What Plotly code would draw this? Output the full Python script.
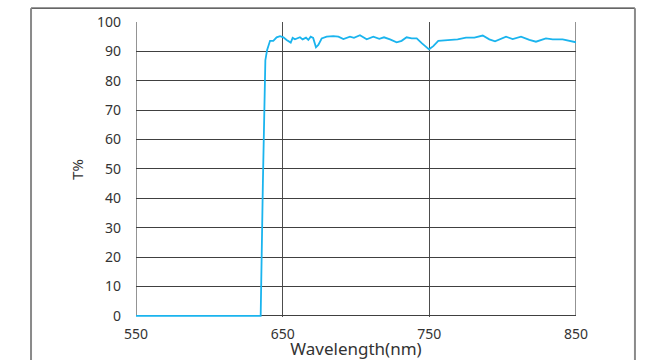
import plotly.graph_objects as go

# Transmission spectrum of a long-pass filter
wavelength_nm = [550, 635, 636.5, 638.2, 639.4, 641.4, 643.6, 645.9, 648.2, 650.5,
                 652.7, 655.5, 656.8, 658.4, 661.8, 663.6, 665.9, 667.5, 669.1, 670.8,
                 672.7, 674.3, 676.6, 680.0, 684.5, 688.0, 691.4, 695.9, 698.6, 702.7,
                 707.3, 711.8, 715.9, 719.1, 723.2, 727.7, 731.1, 734.5, 738.0, 741.4,
                 744.8, 749.8, 752.7, 756.1, 764.8, 769.3, 775.0, 780.7, 786.4, 790.9,
                 794.8, 798.5, 802.3, 806.8, 812.5, 818.2, 822.7, 829.5, 834.1, 840.9,
                 845.4, 850.0]
transmittance = [0, 0, 45, 87, 90.5, 93.6, 93.6, 94.8, 95.2, 94.8,
                 93.9, 93.0, 94.6, 94.1, 94.8, 94.1, 94.7, 93.9, 95.0, 94.6,
                 91.4, 92.2, 94.4, 95.0, 95.2, 95.0, 94.2, 95.0, 94.6, 95.5,
                 94.1, 95.0, 94.3, 94.8, 94.1, 93.1, 93.6, 94.8, 94.4, 94.4,
                 92.8, 90.7, 91.8, 93.6, 93.9, 94.1, 94.7, 94.7, 95.4, 94.1,
                 93.4, 94.3, 95.0, 94.2, 95.0, 93.9, 93.3, 94.4, 94.1, 94.1,
                 93.6, 93.1]

x_ticks = [550, 650, 750, 850]
y_ticks = [0, 10, 20, 30, 40, 50, 60, 70, 80, 90, 100]

FONT = "Noto Sans"
TEXT = "#333333"

fig = go.Figure()
fig.add_trace(go.Scatter(
    x=wavelength_nm, y=transmittance, mode="lines",
    line=dict(color="#1ab4ee", width=1.8),
    cliponaxis=False, hoverinfo="x+y", showlegend=False,
))

fig.update_layout(
    width=651, height=360,
    margin=dict(l=136, r=75, t=22, b=43),
    paper_bgcolor="white", plot_bgcolor="white",
    font=dict(family=FONT, color=TEXT, size=14),
    xaxis=dict(
        range=[550, 850], tickvals=x_ticks, ticktext=[str(v) for v in x_ticks],
        showgrid=True, gridcolor="#4d4d4d", gridwidth=1.3,
        zeroline=False, showline=False, ticks="", automargin=False,
        ticklabelstandoff=7,
        tickfont=dict(size=14, color=TEXT),
        title=dict(text="Wavelength(nm)", font=dict(size=17, color=TEXT), standoff=3),
    ),
    yaxis=dict(
        # small margin below zero keeps the baseline segment of the curve visible
        range=[-0.35, 100], tickvals=y_ticks,
        showgrid=True, gridcolor="#404040", gridwidth=1,
        zeroline=False, showline=False, ticks="", automargin=False,
        ticklabelstandoff=14,
        tickfont=dict(size=14, color=TEXT),
        title=dict(text="T%", font=dict(size=15, color=TEXT), standoff=9),
    ),
    shapes=[
        # plot-area border (left, right edges)
        dict(type="line", xref="x", yref="y", x0=550, x1=550, y0=0, y1=100,
             line=dict(color="#5a5a5a", width=1.3), layer="below"),
        dict(type="line", xref="x", yref="y", x0=850, x1=850, y0=0, y1=100,
             line=dict(color="#5a5a5a", width=1.3), layer="below"),
        # outer frame (top, left, right)
        dict(type="line", xref="paper", yref="paper", x0=-0.2386, x1=1.134,
             y0=1.047, y1=1.047, line=dict(color="#333333", width=1.2)),
        dict(type="line", xref="paper", yref="paper", x0=-0.2386, x1=-0.2386,
             y0=1.047, y1=-0.2, line=dict(color="#8a8a8a", width=2)),
        dict(type="line", xref="paper", yref="paper", x0=1.134, x1=1.134,
             y0=1.047, y1=-0.2, line=dict(color="#8a8a8a", width=2)),
    ],
)

fig.write_html("out.html")
